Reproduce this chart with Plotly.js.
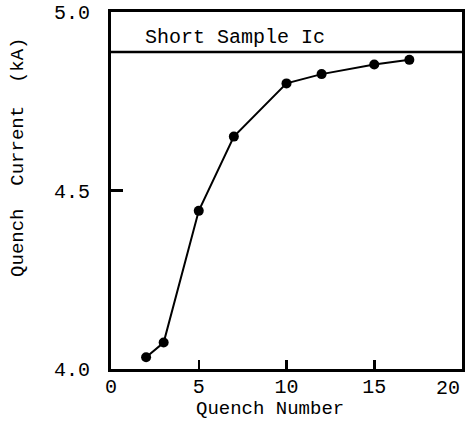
<!DOCTYPE html>
<html>
<head>
<meta charset="utf-8">
<script src="https://cdn.plot.ly/plotly-3.0.1.min.js"></script>
<style>html,body{margin:0;padding:0;background:#fff;}#chart{width:468px;height:422px;}</style>
</head>
<body>
<div id="chart"></div>
<script>
// Data
const quenchNumber = [2, 3, 5, 7, 10, 12, 15, 17];
const quenchCurrent = [4.033, 4.074, 4.443, 4.651, 4.800, 4.826, 4.853, 4.866];
const shortSampleIc = 4.888;
const shortSampleX = [0, 20];
const xTickVals = [0, 5, 10, 15, 20];
const xTickText = ["0", "5", "10", "15", ""];
const xLastTickLabel = "20";
const yTickVals = [4.0, 4.5, 5.0];
const yTickText = ["4.0", "4.5", "5.0"];

const FONT = "Liberation Mono, Courier New, monospace";

const traces = [
  {
    x: shortSampleX,
    y: shortSampleX.map(() => shortSampleIc),
    mode: "lines",
    line: {color: "#000", width: 2.5},
    hoverinfo: "skip",
    showlegend: false
  },
  {
    x: quenchNumber,
    y: quenchCurrent,
    mode: "lines+markers",
    line: {color: "#000", width: 2},
    marker: {color: "#000", size: 10},
    showlegend: false
  }
];

const layout = {
  width: 468,
  height: 422,
  margin: {l: 111, r: 6, t: 12, b: 53},
  paper_bgcolor: "#fff",
  plot_bgcolor: "#fff",
  font: {family: FONT, color: "#000", size: 19},
  xaxis: {
    range: [0, 20],
    tickvals: xTickVals,
    ticktext: xTickText,
    ticks: "inside",
    ticklen: 9,
    tickwidth: 2.5,
    tickcolor: "#000",
    showline: true,
    mirror: true,
    linecolor: "#000",
    linewidth: 3,
    showgrid: false,
    zeroline: false,
    ticklabelstandoff: -3,
    tickfont: {family: FONT, size: 20, color: "#000"}
  },
  yaxis: {
    range: [4.0, 5.0],
    tickvals: yTickVals,
    ticktext: yTickText,
    ticks: "inside",
    ticklen: 12,
    tickwidth: 2.5,
    tickcolor: "#000",
    showline: true,
    mirror: true,
    linecolor: "#000",
    linewidth: 3,
    showgrid: false,
    zeroline: false,
    ticklabelstandoff: 14,
    tickfont: {family: FONT, size: 20, color: "#000"}
  },
  annotations: [
    {
      text: xLastTickLabel,
      x: xTickVals[xTickVals.length - 1], y: -0.0546, xref: "x", yref: "paper",
      xanchor: "right", yanchor: "middle",
      showarrow: false,
      font: {family: FONT, size: 20, color: "#000"}
    },
    {
      text: "Short Sample Ic",
      x: 1.8, y: shortSampleIc, xref: "x", yref: "y",
      xanchor: "left", yanchor: "bottom", yshift: 1,
      showarrow: false,
      font: {family: FONT, size: 20, color: "#000"}
    },
    {
      text: "Quench Number",
      x: 0.453, y: -0.14846, xref: "paper", yref: "paper",
      xanchor: "center", yanchor: "bottom",
      showarrow: false,
      font: {family: FONT, size: 19, color: "#000"}
    },
    {
      text: "Quench\u00A0\u00A0Current\u00A0\u00A0(kA)",
      x: -0.265, y: 0.594, xref: "paper", yref: "paper",
      xanchor: "center", yanchor: "middle",
      textangle: -90,
      showarrow: false,
      font: {family: FONT, size: 19, color: "#000"}
    }
  ]
};

Plotly.newPlot("chart", traces, layout, {displayModeBar: false, staticPlot: true});
</script>
</body>
</html>
